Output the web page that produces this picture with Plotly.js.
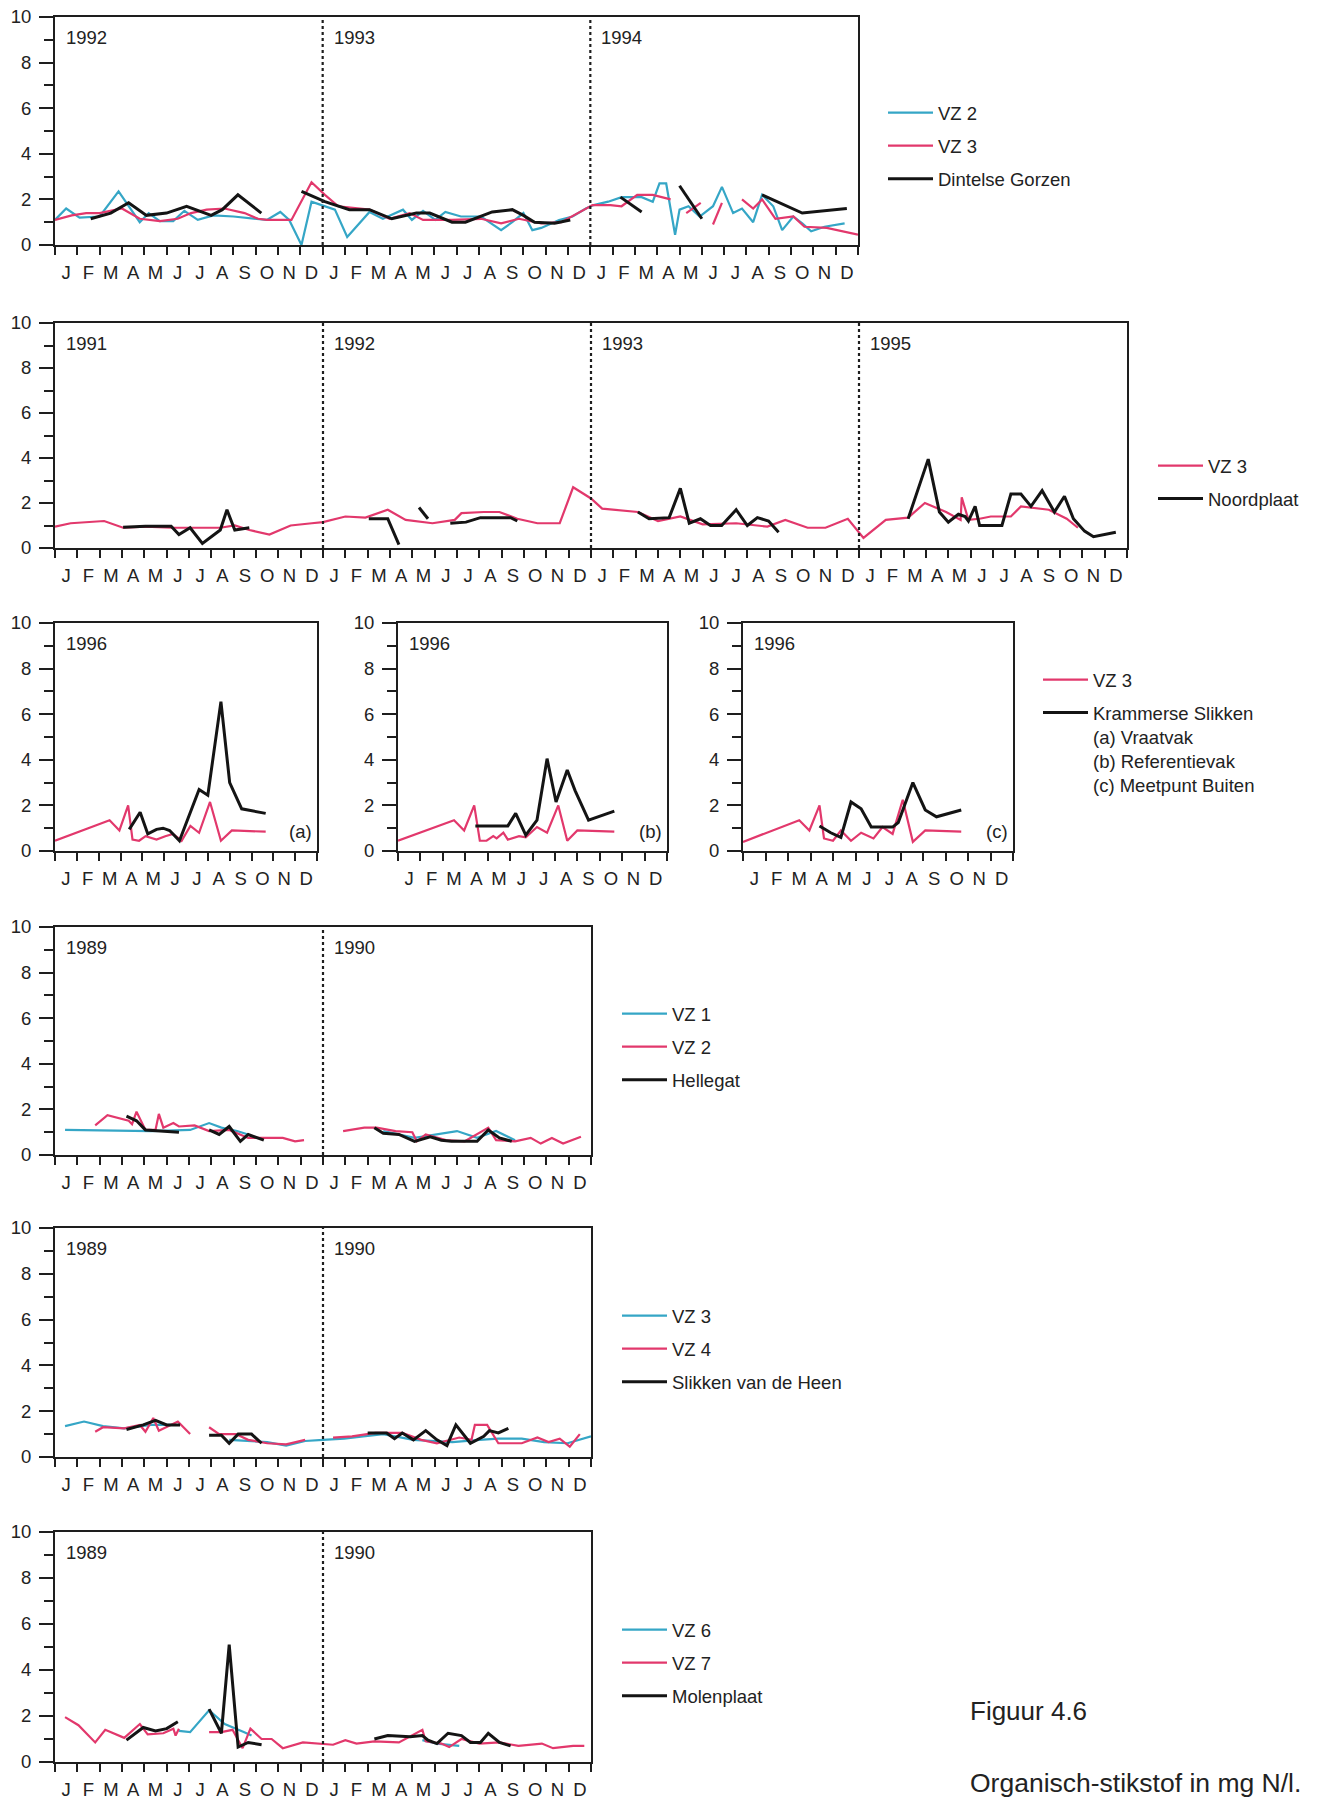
<!DOCTYPE html>
<html>
<head>
<meta charset="utf-8">
<script src="https://cdn.plot.ly/plotly-3.0.1.min.js"></script>
<style>html,body{margin:0;padding:0;background:#fff;}#chart{width:1325px;height:1800px;}</style>
</head>
<body>
<div id="chart"></div>
<script>
// ---------------- DATA (x = months since January of first year) ----------------
const MONTHS = ['J','F','M','A','M','J','J','A','S','O','N','D'];

// Panel 1: Dintelse Gorzen
const p1Years = ['1992','1993','1994'];
const p1VZ2x = [0,0.5,1.1,2.0,2.85,3.8,4.2,4.7,5.3,5.8,6.4,7.1,8.0,9.1,9.5,10.1,10.5,11.05,11.5,11.95,12.55,13.1,14.1,14.7,15.6,16.0,16.5,17.05,17.5,18.2,19.1,20.0,20.5,21.0,21.4,21.8,22.6,23.2,23.8,24.15,24.8,25.4,25.9,26.3,26.8,27.1,27.4,27.8,28.0,28.4,28.9,29.5,29.9,30.4,30.8,31.3,31.7,32.2,32.6,33.1,33.5,33.9,34.5,35.4];
const p1VZ2y = [1.1,1.6,1.2,1.25,2.35,1.0,1.4,1.05,1.05,1.5,1.1,1.3,1.25,1.15,1.1,1.45,1.1,0.0,1.9,1.75,1.55,0.35,1.45,1.15,1.55,1.1,1.5,1.1,1.45,1.25,1.25,0.65,1.0,1.4,0.65,0.75,1.1,1.25,1.6,1.75,1.9,2.1,2.1,2.1,1.9,2.7,2.7,0.45,1.55,1.7,1.25,1.7,2.55,1.4,1.6,1.0,2.2,1.7,0.65,1.25,0.95,0.6,0.8,0.95];
const p1VZ3x = [0,0.75,1.4,2.0,3.0,3.8,4.7,5.5,6.1,6.8,7.6,8.5,9.1,9.5,10.6,11.5,12.1,12.7,14.1,15.0,15.9,16.5,17.8,19.1,20.0,20.8,21.8,22.7,24.1,24.9,25.4,26.1,26.8,27.6,null,28.3,28.95,null,29.5,29.9,null,30.8,31.3,31.7,32.3,33.1,33.6,34.6,36];
const p1VZ3y = [1.1,1.3,1.4,1.4,1.6,1.15,1.05,1.15,1.4,1.55,1.6,1.4,1.15,1.1,1.1,2.75,2.2,1.7,1.55,1.15,1.4,1.1,1.1,1.15,0.95,1.15,0.95,1.0,1.75,1.75,1.7,2.2,2.2,2.0,null,1.4,1.85,null,0.9,1.85,null,2.0,1.6,2.0,1.15,1.25,0.8,0.75,0.45];
const p1DGx = [1.6,2.5,3.3,4.1,5.0,5.9,7.0,7.5,8.2,9.25,null,11.05,12.1,13.2,14.1,15.1,16.2,16.8,17.8,18.4,19.6,20.5,21.0,21.5,22.4,23.1,null,25.35,26.3,null,28.0,29.0,null,31.7,33.5,35.5];
const p1DGy = [1.15,1.4,1.85,1.3,1.4,1.7,1.3,1.55,2.2,1.4,null,2.35,1.9,1.55,1.55,1.15,1.4,1.4,1.0,1.0,1.45,1.55,1.3,1.0,0.95,1.1,null,2.1,1.45,null,2.6,1.15,null,2.2,1.4,1.6];

// Panel 2: Noordplaat
const p2Years = ['1991','1992','1993','1995'];
const p2VZ3x = [0,0.7,2.2,3.05,4.05,5.2,6.4,7.4,8.05,8.7,9.6,10.55,11.5,12,13.0,13.9,14.9,15.7,16.9,17.9,18.2,19.2,19.9,20.7,21.6,22.6,23.2,24,24.5,26.1,27.0,28.0,29.0,30.5,31.9,32.7,33.7,34.5,35.5,36.2,37.2,38.2,38.95,39.9,40.55,40.6,40.9,41.4,41.9,42.8,43.25,44.5,45.3,45.8];
const p2VZ3y = [0.95,1.1,1.2,0.9,0.95,0.9,0.9,0.9,1.0,0.8,0.6,1.0,1.1,1.15,1.4,1.35,1.7,1.25,1.1,1.25,1.55,1.6,1.6,1.3,1.1,1.1,2.7,2.2,1.75,1.6,1.2,1.4,1.05,1.1,0.95,1.25,0.9,0.9,1.3,0.45,1.25,1.35,2.0,1.6,1.25,2.25,1.25,1.3,1.4,1.4,1.85,1.7,1.3,0.9];
const p2NPx = [3.05,4.05,5.2,5.55,6.05,6.6,7.4,7.7,8.05,8.7,null,14.05,14.9,15.4,null,16.3,16.7,null,17.7,18.4,19.05,20.4,20.7,null,26.1,26.6,27.5,28.0,28.4,28.9,29.35,29.85,30.5,31.0,31.45,31.95,32.4,null,38.2,39.1,39.6,40.0,40.45,40.75,40.9,41.2,41.4,42.4,42.8,43.25,43.7,44.2,44.75,45.2,45.6,46.1,46.5,47.5];
const p2NPy = [0.92,0.97,0.97,0.6,0.9,0.2,0.8,1.7,0.8,0.9,null,1.3,1.3,0.15,null,1.8,1.3,null,1.1,1.15,1.35,1.35,1.2,null,1.6,1.3,1.35,2.65,1.1,1.3,1.0,1.0,1.7,1.0,1.35,1.2,0.7,null,1.3,3.95,1.6,1.15,1.5,1.4,1.2,1.85,1.0,1.0,2.4,2.4,1.85,2.55,1.6,2.3,1.3,0.75,0.5,0.7];

// Panel 3: Krammerse Slikken 1996 (a, b, c)
const p3Years = ['1996'];
const p3aVZ3x = [0,2.5,2.95,3.35,3.55,3.85,4.15,4.65,5.05,5.4,5.8,6.2,6.6,7.1,7.6,8.1,9.65];
const p3aVZ3y = [0.45,1.35,0.9,2.0,0.5,0.45,0.65,0.5,0.65,0.75,0.45,1.1,0.8,2.15,0.45,0.9,0.85];
const p3aKSx = [3.4,3.9,4.25,4.65,4.95,5.25,5.7,6.6,7.0,7.6,8.0,8.55,9.65];
const p3aKSy = [0.95,1.7,0.75,0.95,1.0,0.9,0.45,2.7,2.45,6.55,3.0,1.85,1.65];
const p3bVZ3x = [0,2.5,2.95,3.4,3.65,3.95,4.25,4.4,4.7,4.9,5.4,5.7,6.2,6.65,7.15,7.55,8.0,9.65];
const p3bVZ3y = [0.45,1.35,0.9,2.0,0.45,0.45,0.65,0.55,0.8,0.5,0.65,0.6,1.05,0.8,2.0,0.45,0.9,0.85];
const p3bKSx = [3.45,4.9,5.25,5.7,6.2,6.65,7.05,7.55,7.9,8.5,9.65];
const p3bKSy = [1.1,1.1,1.65,0.7,1.35,4.05,2.15,3.55,2.65,1.35,1.75];
const p3cVZ3x = [0,2.5,2.95,3.4,3.6,4.0,4.35,4.8,5.25,5.8,6.2,6.65,7.1,7.55,8.1,9.7];
const p3cVZ3y = [0.4,1.35,0.9,2.0,0.55,0.45,0.9,0.45,0.8,0.55,1.05,0.75,2.25,0.4,0.9,0.85];
const p3cKSx = [3.4,3.9,4.35,4.8,5.25,5.7,6.2,6.65,6.9,7.55,8.1,8.6,9.7];
const p3cKSy = [1.1,0.8,0.6,2.15,1.85,1.05,1.05,1.05,1.25,3.0,1.8,1.5,1.8];
const p3Tags = ['(a)','(b)','(c)'];

// Panel 4: Hellegat
const p4Years = ['1989','1990'];
const p4VZ1x = [0.45,4.3,6.05,6.9,7.45,8.15,8.65,null,14.7,16.1,18.0,18.9,19.75,20.6];
const p4VZ1y = [1.1,1.05,1.1,1.4,1.2,1.05,0.9,null,1.05,0.75,1.05,0.75,1.05,0.65];
const p4VZ2x = [1.8,2.35,3.3,3.45,3.65,4.05,4.5,4.65,4.85,5.3,5.55,6.25,6.9,7.8,8.65,9.5,10.2,10.75,11.15,null,12.9,13.85,14.4,15.25,16.0,16.2,16.6,17.5,18.35,19.4,19.75,20.6,21.3,21.75,22.25,22.75,23.55];
const p4VZ2y = [1.3,1.75,1.5,1.35,1.9,1.1,1.1,1.8,1.2,1.4,1.25,1.3,1.05,1.1,0.75,0.75,0.75,0.6,0.65,null,1.05,1.2,1.2,1.05,1.0,0.6,0.9,0.65,0.6,1.2,0.65,0.6,0.75,0.5,0.75,0.5,0.8];
const p4HGx = [3.2,3.65,4.05,5.55,null,6.9,7.35,7.8,8.3,8.65,9.35,null,14.3,14.7,15.4,16.1,16.8,17.3,17.75,18.9,19.4,19.9,20.45];
const p4HGy = [1.7,1.5,1.1,1.0,null,1.1,0.9,1.25,0.6,0.9,0.65,null,1.2,0.95,0.9,0.6,0.8,0.65,0.6,0.6,1.1,0.75,0.6];

// Panel 5: Slikken van de Heen
const p5Years = ['1989','1990'];
const p5VZ3x = [0.45,1.3,2.15,3.1,4.3,5.35,null,7.8,9.5,10.35,11.2,12.0,12.95,13.8,14.7,16.05,16.9,17.8,19.0,19.85,20.9,21.9,22.95,24];
const p5VZ3y = [1.35,1.55,1.35,1.25,1.4,1.4,null,0.75,0.65,0.5,0.7,0.75,0.8,0.9,1.0,0.75,0.7,0.65,0.75,0.8,0.8,0.65,0.6,0.9];
const p5VZ4x = [1.8,2.15,3.1,3.8,4.05,4.4,4.65,5.0,5.5,6.05,null,6.9,7.35,8.1,8.65,9.5,10.35,11.2,null,12.45,13.3,14.35,15.55,16.4,17.1,18.1,18.65,18.8,19.35,19.85,20.9,21.6,22.1,22.6,23.05,23.5];
const p5VZ4y = [1.1,1.3,1.25,1.4,1.1,1.7,1.15,1.3,1.55,1.0,null,1.3,1.0,1.0,0.75,0.6,0.55,0.75,null,0.85,0.9,1.05,1.05,0.75,0.6,0.85,0.75,1.4,1.4,0.6,0.6,0.85,0.65,0.8,0.45,1.0];
const p5SHx = [3.2,3.95,4.5,5.0,5.6,null,6.9,7.45,7.8,8.2,8.8,9.25,null,14.0,14.85,15.2,15.55,16.05,16.6,17.1,17.55,17.95,18.6,19.2,19.45,19.85,20.3];
const p5SHy = [1.2,1.4,1.6,1.4,1.4,null,0.95,0.95,0.6,1.0,1.0,0.6,null,1.05,1.05,0.8,1.05,0.75,1.15,0.75,0.5,1.4,0.6,0.9,1.15,1.05,1.25];

// Panel 6: Molenplaat
const p6Years = ['1989','1990'];
const p6VZ6x = [5.55,6.05,6.9,7.6,8.45,8.8,null,16.45,17.1,18.1];
const p6VZ6y = [1.35,1.3,2.25,1.65,1.3,1.15,null,0.95,0.8,0.7];
const p6VZ7x = [0.45,1.05,1.8,2.25,3.1,3.8,4.15,4.85,5.3,5.4,5.55,null,6.9,7.45,7.95,8.4,8.75,9.25,9.7,10.2,11.1,11.95,12.45,13.0,13.5,14.3,15.4,16.45,16.6,17.3,17.65,18.2,19.0,19.9,20.75,21.8,22.3,23.2,23.7];
const p6VZ7y = [1.95,1.6,0.85,1.4,1.05,1.65,1.2,1.25,1.45,1.15,1.45,null,1.3,1.3,1.4,0.6,1.45,1.0,1.0,0.6,0.85,0.8,0.75,0.95,0.8,0.9,0.85,1.4,0.9,0.8,0.65,1.0,0.8,0.85,0.7,0.8,0.6,0.7,0.7];
const p6MPx = [3.2,3.95,4.5,5.0,5.5,null,6.9,7.45,7.8,8.2,8.65,9.25,null,14.3,14.9,15.9,16.45,16.7,17.1,17.6,18.2,18.6,19.05,19.4,19.9,20.4];
const p6MPy = [0.95,1.5,1.35,1.45,1.75,null,2.3,1.25,5.1,0.65,0.85,0.75,null,1.0,1.15,1.1,1.15,0.95,0.8,1.25,1.15,0.85,0.85,1.25,0.85,0.7];

const yTicks = [0,2,4,6,8,10];
const yMinor = [1,3,5,7,9];
const figTitle = 'Figuur 4.6';
const figCaption = 'Organisch-stikstof in mg N/l.';

// ---------------- STYLE / LAYOUT ----------------
const W = 1325, H = 1800;
const FONT = 'Liberation Sans, Arial, Helvetica, sans-serif';
const COL = {cyan:'#35a6c6', mag:'#e2386c', blk:'#141414'};
const AX = '#1e1e1e';
const ITEMW = 45;

const panels = [
  {years:p1Years, box:[55,858,17,245], lg:'legend', series:[
    {n:'VZ 2', x:p1VZ2x, y:p1VZ2y, c:'cyan'},
    {n:'VZ 3', x:p1VZ3x, y:p1VZ3y, c:'mag'},
    {n:'Dintelse Gorzen', x:p1DGx, y:p1DGy, c:'blk'}]},
  {years:p2Years, box:[55,1127,323,548], lg:'legend2', series:[
    {n:'VZ 3', x:p2VZ3x, y:p2VZ3y, c:'mag'},
    {n:'Noordplaat', x:p2NPx, y:p2NPy, c:'blk'}]},
  {years:p3Years, box:[55,317,623,851], lg:'legend3', tag:p3Tags[0], series:[
    {n:'VZ 3', x:p3aVZ3x, y:p3aVZ3y, c:'mag'},
    {n:'Krammerse Slikken<br>(a) Vraatvak<br>(b) Referentievak<br>(c) Meetpunt Buiten', x:p3aKSx, y:p3aKSy, c:'blk'}]},
  {years:p3Years, box:[398,667,623,851], lg:'legend3', hide:true, tag:p3Tags[1], series:[
    {n:'VZ 3', x:p3bVZ3x, y:p3bVZ3y, c:'mag'},
    {n:'Krammerse Slikken', x:p3bKSx, y:p3bKSy, c:'blk'}]},
  {years:p3Years, box:[743,1013,623,851], lg:'legend3', hide:true, tag:p3Tags[2], series:[
    {n:'VZ 3', x:p3cVZ3x, y:p3cVZ3y, c:'mag'},
    {n:'Krammerse Slikken', x:p3cKSx, y:p3cKSy, c:'blk'}]},
  {years:p4Years, box:[55,591,927,1155], lg:'legend4', series:[
    {n:'VZ 1', x:p4VZ1x, y:p4VZ1y, c:'cyan'},
    {n:'VZ 2', x:p4VZ2x, y:p4VZ2y, c:'mag'},
    {n:'Hellegat', x:p4HGx, y:p4HGy, c:'blk'}]},
  {years:p5Years, box:[55,591,1228,1457], lg:'legend5', series:[
    {n:'VZ 3', x:p5VZ3x, y:p5VZ3y, c:'cyan'},
    {n:'VZ 4', x:p5VZ4x, y:p5VZ4y, c:'mag'},
    {n:'Slikken van de Heen', x:p5SHx, y:p5SHy, c:'blk'}]},
  {years:p6Years, box:[55,591,1532,1762], lg:'legend6', series:[
    {n:'VZ 6', x:p6VZ6x, y:p6VZ6y, c:'cyan'},
    {n:'VZ 7', x:p6VZ7x, y:p6VZ7y, c:'mag'},
    {n:'Molenplaat', x:p6MPx, y:p6MPy, c:'blk'}]}
];

// legend placement: [text left px, top px]
const legendPos = {
  legend:[938,94], legend2:[1208,447], legend3:[1093,661],
  legend4:[672,995], legend5:[672,1297], legend6:[672,1611]
};

const layout = {
  width:W, height:H, margin:{l:0,r:0,t:0,b:0},
  paper_bgcolor:'#fff', plot_bgcolor:'#fff',
  font:{family:FONT, size:18.5, color:'#222'},
  showlegend:true, shapes:[], annotations:[]
};
Object.keys(legendPos).forEach(k=>{
  layout[k] = {x:(legendPos[k][0]-ITEMW-10)/W, y:1-legendPos[k][1]/H, xanchor:'left', yanchor:'top',
    bgcolor:'rgba(0,0,0,0)', borderwidth:0, font:{family:FONT,size:18.5,color:'#222'},
    traceorder:'grouped', tracegroupgap:6, valign:'top', itemwidth:ITEMW};
});

const traces = [];
panels.forEach((p,i)=>{
  const sfx = i===0 ? '' : String(i+1);
  const xa = 'x'+sfx, ya = 'y'+sfx;
  const n = p.years.length*12;
  const centers = [], labels = [], edges = [];
  for(let k=0;k<n;k++){ centers.push(k+0.5); labels.push(MONTHS[k%12]); }
  for(let k=0;k<=n;k++) edges.push(k);
  const [x0,x1,yt,yb] = p.box;
  layout['xaxis'+sfx] = {
    domain:[x0/W, x1/W], anchor:ya, range:[0,n], fixedrange:true,
    showline:true, linecolor:AX, linewidth:2, mirror:true, showgrid:false, zeroline:false,
    tickmode:'array', tickvals:centers, ticktext:labels, ticks:'', ticklabelstandoff:10,
    tickfont:{family:FONT,size:18.5,color:'#222'},
    minor:{tickmode:'array', tickvals:edges, ticks:'outside', ticklen:8, tickwidth:2, tickcolor:AX, showgrid:false}
  };
  layout['yaxis'+sfx] = {
    domain:[1-yb/H, 1-yt/H], anchor:xa, range:[0,10], fixedrange:true,
    showline:true, linecolor:AX, linewidth:2, mirror:true, showgrid:false, zeroline:false,
    tickmode:'array', tickvals:yTicks, ticks:'outside', ticklen:14, tickwidth:2, tickcolor:AX,
    ticklabelstandoff:4, tickfont:{family:FONT,size:18.5,color:'#222'},
    minor:{tickmode:'array', tickvals:yMinor, ticks:'outside', ticklen:9, tickwidth:2, tickcolor:AX, showgrid:false}
  };
  p.years.forEach((yr,k)=>{
    if(k>0){
      layout.shapes.push({type:'line', xref:xa, yref:ya+' domain', x0:k*12, x1:k*12, y0:0, y1:1,
        line:{color:AX, width:2.2, dash:'dot'}});
    }
    layout.annotations.push({xref:xa, yref:ya+' domain', x:k*12, y:1, xanchor:'left', yanchor:'top',
      xshift:9, yshift:-8, text:yr, showarrow:false, font:{family:FONT,size:18.5,color:'#222'}});
  });
  if(p.tag){
    layout.annotations.push({xref:xa+' domain', yref:ya+' domain', x:1, y:0, xanchor:'right', yanchor:'bottom',
      xshift:-3, yshift:7, text:p.tag, showarrow:false, font:{family:FONT,size:18.5,color:'#222'}});
  }
  p.series.forEach((s,j)=>{
    traces.push({type:'scatter', mode:'lines', x:s.x, y:s.y, xaxis:xa, yaxis:ya, name:s.n,
      connectgaps:false, hoverinfo:'skip',
      line:{color:COL[s.c], width: s.c==='blk'?3:2.2},
      legend:p.lg, showlegend:!p.hide, legendgroup:p.lg+'_'+j});
  });
});

layout.annotations.push({xref:'paper', yref:'paper', x:968/W, y:1-1711/H, xanchor:'left', yanchor:'middle',
  text:figTitle, showarrow:false, font:{family:FONT,size:26,color:'#222'}});
layout.annotations.push({xref:'paper', yref:'paper', x:968/W, y:1-1783/H, xanchor:'left', yanchor:'middle',
  text:figCaption, showarrow:false, font:{family:FONT,size:26.5,color:'#222'}});

Plotly.newPlot('chart', traces, layout, {displayModeBar:false, staticPlot:true});
</script>
</body>
</html>
